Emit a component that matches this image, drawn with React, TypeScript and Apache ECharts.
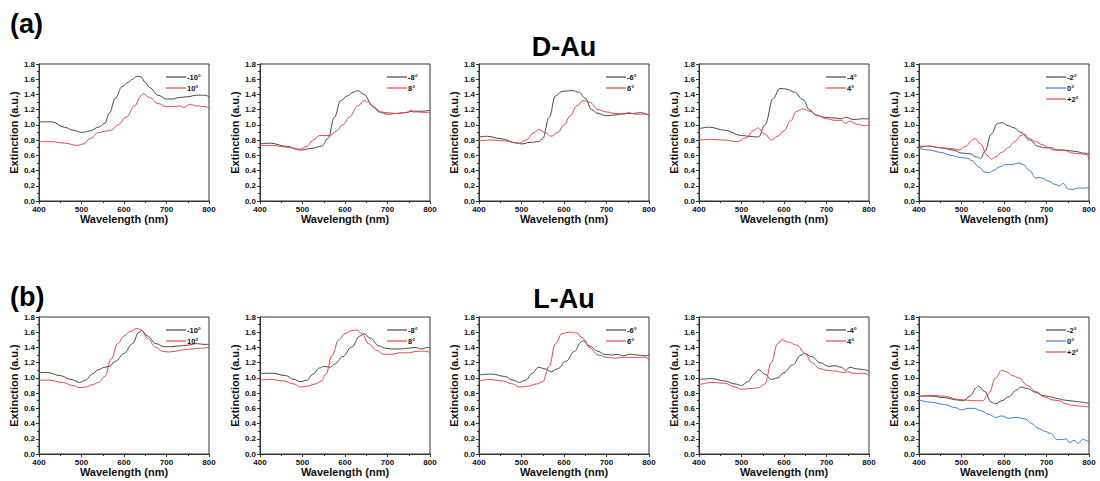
import React, { useEffect, useRef } from "react";
import * as echarts from "echarts";

// ---------- Data (wavelength nm, extinction a.u.) ----------
// Row (a): D-Au
const dNeg10 = [[400,1.04],[430,1.04],[460,0.97],[480,0.93],[500,0.90],[520,0.92],[540,0.97],[555,1.02],[565,1.15],[580,1.35],[595,1.50],[610,1.56],[620,1.60],[630,1.64],[640,1.63],[650,1.56],[660,1.49],[680,1.39],[700,1.34],[715,1.34],[730,1.36],[750,1.37],[770,1.39],[790,1.39],[800,1.37]];
const dPos10 = [[400,0.78],[430,0.78],[460,0.76],[490,0.73],[505,0.75],[520,0.82],[540,0.90],[560,0.92],[570,0.93],[585,1.00],[605,1.10],[625,1.25],[640,1.38],[645,1.41],[660,1.36],[680,1.28],[700,1.24],[720,1.24],[730,1.25],[740,1.23],[755,1.27],[770,1.25],[790,1.24],[800,1.22]];
const dNeg8 = [[400,0.75],[425,0.76],[460,0.72],[495,0.67],[520,0.69],[545,0.72],[560,0.82],[575,1.10],[590,1.32],[605,1.38],[620,1.43],[630,1.45],[645,1.40],[665,1.25],[680,1.17],[700,1.14],[720,1.15],[740,1.16],[760,1.18],[780,1.18],[800,1.19]];
const dPos8 = [[400,0.73],[430,0.73],[460,0.71],[495,0.68],[510,0.72],[525,0.80],[540,0.86],[555,0.86],[565,0.86],[580,0.92],[595,1.00],[610,1.10],[630,1.25],[645,1.32],[655,1.30],[670,1.22],[685,1.17],[700,1.16],[720,1.15],[740,1.16],[750,1.17],[755,1.20],[760,1.17],[770,1.17],[790,1.16],[800,1.17]];
const dNeg6 = [[400,0.84],[420,0.85],[450,0.82],[490,0.76],[500,0.75],[520,0.77],[540,0.78],[550,0.82],[565,1.10],[580,1.38],[595,1.44],[620,1.45],[635,1.43],[650,1.35],[665,1.20],[680,1.15],[700,1.12],[720,1.13],[740,1.15],[760,1.15],[780,1.16],[800,1.13]];
const dPos6 = [[400,0.79],[430,0.80],[460,0.79],[495,0.76],[510,0.80],[530,0.90],[540,0.94],[555,0.90],[570,0.85],[585,0.90],[600,1.00],[615,1.12],[630,1.25],[645,1.32],[660,1.30],[680,1.20],[700,1.17],[720,1.15],[740,1.14],[750,1.16],[770,1.14],[790,1.14],[800,1.13]];
const dNeg4 = [[400,0.95],[425,0.97],[460,0.93],[500,0.86],[520,0.85],[540,0.84],[555,1.00],[575,1.35],[590,1.48],[605,1.47],[625,1.43],[645,1.33],[660,1.20],[675,1.13],[695,1.10],[720,1.09],[735,1.08],[745,1.10],[765,1.07],[785,1.08],[800,1.08]];
const dPos4 = [[400,0.80],[430,0.81],[460,0.80],[490,0.78],[510,0.83],[530,0.93],[538,0.96],[555,0.88],[570,0.80],[585,0.85],[600,0.92],[615,1.05],[630,1.18],[645,1.21],[660,1.18],[680,1.12],[700,1.08],[720,1.06],[735,1.06],[745,1.02],[755,1.05],[770,1.01],[790,0.99],[800,1.00]];
const dNeg2 = [[400,0.72],[425,0.72],[450,0.70],[480,0.67],[500,0.63],[520,0.62],[535,0.58],[545,0.56],[555,0.65],[570,0.88],[585,1.02],[595,1.03],[610,0.99],[625,0.96],[640,0.90],[660,0.80],[680,0.72],[695,0.70],[710,0.70],[725,0.67],[740,0.67],[755,0.66],[770,0.65],[785,0.63],[800,0.62]];
const dZero = [[400,0.69],[425,0.67],[450,0.64],[475,0.60],[500,0.57],[515,0.56],[525,0.53],[540,0.45],[555,0.38],[565,0.37],[575,0.40],[590,0.45],[605,0.48],[620,0.48],[635,0.50],[645,0.48],[660,0.40],[675,0.30],[683,0.31],[690,0.30],[705,0.26],[720,0.22],[730,0.20],[740,0.23],[750,0.16],[760,0.15],[775,0.17],[790,0.17],[800,0.18]];
const dPos2 = [[400,0.70],[425,0.72],[450,0.70],[475,0.69],[495,0.67],[510,0.72],[525,0.80],[532,0.82],[545,0.75],[560,0.60],[570,0.55],[580,0.58],[595,0.64],[610,0.70],[625,0.78],[640,0.86],[648,0.88],[660,0.82],[675,0.78],[690,0.74],[705,0.70],[715,0.67],[730,0.67],[745,0.66],[760,0.63],[780,0.62],[795,0.61],[800,0.55]];

// Row (b): L-Au
const lNeg10 = [[400,1.07],[420,1.07],[450,1.03],[475,0.98],[495,0.94],[510,0.97],[525,1.05],[540,1.11],[555,1.14],[565,1.15],[580,1.22],[600,1.32],[620,1.45],[635,1.60],[642,1.62],[655,1.55],[675,1.45],[695,1.41],[710,1.41],[730,1.42],[750,1.43],[770,1.45],[790,1.44],[800,1.44]];
const lPos10 = [[400,0.97],[425,0.97],[455,0.94],[480,0.90],[495,0.87],[510,0.88],[525,0.91],[540,0.94],[555,1.02],[570,1.25],[585,1.45],[600,1.55],[615,1.61],[630,1.65],[640,1.63],[655,1.52],[675,1.40],[690,1.35],[705,1.34],[720,1.35],[740,1.37],[760,1.38],[780,1.39],[800,1.40]];
const lNeg8 = [[400,1.06],[430,1.06],[460,1.03],[480,0.98],[495,0.95],[510,0.97],[525,1.05],[540,1.13],[550,1.15],[565,1.14],[575,1.18],[595,1.28],[615,1.40],[635,1.55],[645,1.58],[660,1.52],[680,1.42],[695,1.39],[710,1.38],[730,1.38],[750,1.39],[765,1.40],[780,1.38],[795,1.40],[800,1.39]];
const lPos8 = [[400,0.97],[425,0.98],[455,0.96],[480,0.92],[495,0.88],[510,0.89],[530,0.92],[545,0.96],[555,1.05],[570,1.30],[585,1.50],[600,1.58],[615,1.62],[628,1.63],[640,1.58],[655,1.45],[675,1.36],[690,1.31],[710,1.31],[730,1.33],[750,1.33],[770,1.35],[790,1.35],[800,1.33]];
const lNeg6 = [[400,1.04],[430,1.05],[460,1.02],[480,0.97],[495,0.94],[510,0.97],[525,1.06],[540,1.14],[555,1.12],[570,1.08],[585,1.12],[605,1.22],[625,1.35],[640,1.47],[645,1.49],[660,1.42],[680,1.35],[695,1.31],[715,1.30],[725,1.31],[740,1.29],[755,1.31],[775,1.30],[790,1.29],[800,1.30]];
const lPos6 = [[400,0.96],[425,0.98],[455,0.96],[480,0.92],[495,0.88],[515,0.89],[535,0.92],[550,0.95],[565,1.15],[580,1.45],[595,1.58],[610,1.60],[630,1.59],[645,1.52],[660,1.40],[680,1.30],[700,1.27],[720,1.26],[740,1.27],[760,1.27],[780,1.27],[790,1.27],[800,1.24]];
const lNeg4 = [[400,0.98],[430,0.99],[460,0.96],[485,0.92],[500,0.90],[515,0.95],[530,1.05],[540,1.11],[555,1.05],[570,0.98],[585,1.00],[600,1.07],[620,1.17],[640,1.30],[648,1.32],[665,1.28],[685,1.20],[705,1.15],[720,1.16],[735,1.14],[745,1.10],[755,1.14],[770,1.12],[785,1.11],[800,1.09]];
const lPos4 = [[400,0.91],[430,0.94],[460,0.93],[485,0.88],[500,0.85],[520,0.86],[540,0.87],[555,0.92],[570,1.20],[585,1.45],[595,1.50],[610,1.47],[630,1.43],[650,1.32],[665,1.20],[685,1.12],[700,1.10],[720,1.09],[740,1.07],[750,1.08],[765,1.06],[780,1.06],[790,1.06],[800,1.03]];
const lNeg2 = [[400,0.76],[430,0.76],[460,0.74],[490,0.71],[505,0.70],[520,0.76],[535,0.87],[540,0.89],[555,0.82],[570,0.68],[580,0.66],[595,0.70],[610,0.75],[630,0.84],[640,0.88],[655,0.86],[675,0.81],[690,0.77],[710,0.75],[725,0.73],[740,0.71],[755,0.70],[770,0.69],[785,0.68],[800,0.66]];
const lZero = [[400,0.71],[430,0.68],[460,0.65],[485,0.61],[500,0.58],[515,0.60],[530,0.60],[545,0.57],[565,0.52],[580,0.48],[595,0.50],[610,0.47],[630,0.48],[650,0.46],[665,0.40],[680,0.34],[695,0.30],[710,0.27],[725,0.19],[740,0.19],[745,0.20],[755,0.15],[765,0.18],[775,0.14],[785,0.19],[800,0.16]];
const lPos2 = [[400,0.76],[430,0.77],[460,0.76],[490,0.72],[505,0.71],[530,0.70],[550,0.70],[565,0.80],[580,1.00],[595,1.10],[605,1.08],[620,1.03],[635,1.00],[655,0.90],[675,0.82],[695,0.75],[715,0.71],[730,0.70],[745,0.66],[760,0.64],[780,0.63],[795,0.62],[800,0.62]];

const xTicks = [400, 500, 600, 700, 800];
const yTicks = [0.0, 0.2, 0.4, 0.6, 0.8, 1.0, 1.2, 1.4, 1.6, 1.8];

const BLACK = "#474747";
const RED = "#e2474c";
const BLUE = "#3f7bd3";

type S = { name: string; color: string; data: number[][] };
const panels: S[][] = [
  [{ name: "-10°", color: BLACK, data: dNeg10 }, { name: "10°", color: RED, data: dPos10 }],
  [{ name: "-8°", color: BLACK, data: dNeg8 }, { name: "8°", color: RED, data: dPos8 }],
  [{ name: "-6°", color: BLACK, data: dNeg6 }, { name: "6°", color: RED, data: dPos6 }],
  [{ name: "-4°", color: BLACK, data: dNeg4 }, { name: "4°", color: RED, data: dPos4 }],
  [{ name: "-2°", color: BLACK, data: dNeg2 }, { name: "0°", color: BLUE, data: dZero }, { name: "+2°", color: RED, data: dPos2 }],
  [{ name: "-10°", color: BLACK, data: lNeg10 }, { name: "10°", color: RED, data: lPos10 }],
  [{ name: "-8°", color: BLACK, data: lNeg8 }, { name: "8°", color: RED, data: lPos8 }],
  [{ name: "-6°", color: BLACK, data: lNeg6 }, { name: "6°", color: RED, data: lPos6 }],
  [{ name: "-4°", color: BLACK, data: lNeg4 }, { name: "4°", color: RED, data: lPos4 }],
  [{ name: "-2°", color: BLACK, data: lNeg2 }, { name: "0°", color: BLUE, data: lZero }, { name: "+2°", color: RED, data: lPos2 }],
];

const LEFTS = [39, 260, 479, 699, 919];
const WIDTH = 170;
const TOPS = [64, 317];
const HEIGHT = 137;
const FONT = "Liberation Sans, Arial, sans-serif";

export default function App() {
  const ref = useRef<HTMLDivElement>(null);
  useEffect(() => {
    document.body.style.margin = "0";
    const chart = echarts.init(ref.current!, undefined, { renderer: "svg" });
    const grids: any[] = [];
    const xAxes: any[] = [];
    const yAxes: any[] = [];
    const series: any[] = [];
    const legends: any[] = [];
    panels.forEach((p, i) => {
      const row = Math.floor(i / 5);
      const col = i % 5;
      const left = LEFTS[col];
      const top = TOPS[row];
      grids.push({
        left, top, width: WIDTH, height: HEIGHT,
        show: true, borderColor: "#333", borderWidth: 1, backgroundColor: "transparent",
      });
      const axisCommon = {
        axisLine: { show: true, lineStyle: { color: "#333", width: 1 } },
        axisTick: { show: true, length: 3, lineStyle: { color: "#333" } },
        minorTick: { show: true, splitNumber: 2, length: 2, lineStyle: { color: "#333" } },
        splitLine: { show: false },
        nameTextStyle: { fontFamily: FONT, fontWeight: "bold", fontSize: 11, color: "#111" },
      };
      xAxes.push({
        ...axisCommon,
        type: "value", gridIndex: i, min: xTicks[0], max: xTicks[xTicks.length - 1], interval: 100,
        name: "Wavelength (nm)", nameLocation: "middle", nameGap: 11,
        axisLabel: { fontFamily: FONT, fontSize: 8, color: "#111", margin: 4, fontWeight: "bold" },
      });
      yAxes.push({
        ...axisCommon,
        type: "value", gridIndex: i, min: yTicks[0], max: yTicks[yTicks.length - 1], interval: 0.2,
        name: "Extinction (a.u.)", nameLocation: "middle", nameGap: 18,
        axisLabel: { fontFamily: FONT, fontSize: 8, color: "#111", margin: 4, fontWeight: "bold",
          formatter: (v: number) => v.toFixed(1) },
      });
      p.forEach((s) => {
        series.push({
          type: "line", name: s.name, xAxisIndex: i, yAxisIndex: i, data: s.data,
          symbol: "none", smooth: 0.4, smoothMonotone: "x",
          lineStyle: { color: s.color, width: 1 }, itemStyle: { color: s.color },
        });
      });
      legends.push({
        data: p.map((s) => ({ name: s.name, icon: "rect" })), orient: "vertical",
        left: left + 122, top: top + 4,
        itemWidth: 20, itemHeight: 1.2, itemGap: 3, selectedMode: false,
        textStyle: { fontFamily: FONT, fontSize: 7.5, fontWeight: "bold", color: "#111", padding: [0, 0, 0, -4] },
      });
    });
    chart.setOption({
      animation: false,
      backgroundColor: "#fff",
      grid: grids, xAxis: xAxes, yAxis: yAxes, series, legend: legends,
      graphic: [
        { type: "text", left: 10, top: 10, style: { text: "(a)", font: `bold 27px ${FONT}`, fill: "#000" } },
        { type: "text", left: 10, top: 283, style: { text: "(b)", font: `bold 27px ${FONT}`, fill: "#000" } },
        { type: "text", x: 564, y: 47, style: { text: "D-Au", font: `bold 27px ${FONT}`, fill: "#000", align: "center", verticalAlign: "middle" } },
        { type: "text", x: 564, y: 299, style: { text: "L-Au", font: `bold 27px ${FONT}`, fill: "#000", align: "center", verticalAlign: "middle" } },
      ],
    });
    return () => chart.dispose();
  }, []);
  return <div ref={ref} style={{ position: "absolute", left: 0, top: 0, width: 1100, height: 481 }} />;
}
